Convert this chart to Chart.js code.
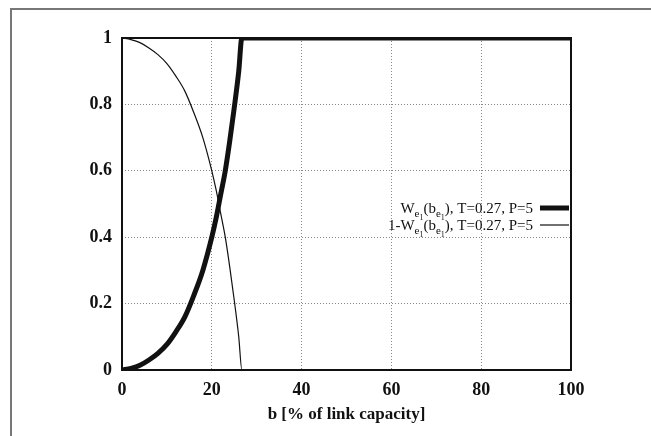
<!DOCTYPE html>
<html>
<head>
<meta charset="utf-8">
<script src="https://cdn.jsdelivr.net/npm/chart.js@4"></script>
<style>
  html, body { margin: 0; padding: 0; background: #fff; }
  #wrap { width: 651px; height: 436px; position: relative; }
</style>
</head>
<body>
<div id="wrap"><canvas id="c" width="651" height="436"></canvas></div>
<script>
// valores
const bValores = [0, 2, 4, 6, 8, 10, 12, 14, 16, 18, 20, 21, 22, 23, 24, 25, 26, 26.7, 100];
const wValores = [0, 0.005, 0.014, 0.03, 0.05, 0.077, 0.115, 0.16, 0.225, 0.3, 0.4, 0.46, 0.53, 0.6, 0.69, 0.79, 0.9, 1, 1];
const compValores = [1, 0.995, 0.986, 0.97, 0.95, 0.923, 0.885, 0.84, 0.775, 0.7, 0.6, 0.54, 0.47, 0.4, 0.31, 0.21, 0.1, 0, 0];
const xTicks = [0, 20, 40, 60, 80, 100];
const yTicks = [0, 0.2, 0.4, 0.6, 0.8, 1];

const SERIF = "'Liberation Serif', 'DejaVu Serif', serif";

function pontos(ys) {
    return bValores.map((b, i) => ({ x: b, y: ys[i] }));
}

// moldura externa, borda do gráfico e legenda desenhadas à mão
const molduraPlugin = {
    id: "moldura",
    beforeDraw(chart) {
        const ctx = chart.ctx;
        ctx.save();
        ctx.strokeStyle = "#777";
        ctx.lineWidth = 2;
        ctx.strokeRect(11, 9, 700, 500);
        ctx.restore();
    },
    afterDraw(chart) {
        const ctx = chart.ctx;
        const a = chart.chartArea;
        ctx.save();
        ctx.strokeStyle = "#111";
        ctx.lineWidth = 2;
        ctx.strokeRect(a.left, a.top, a.right - a.left, a.bottom - a.top);

        // legenda
        const linhas = [
            { pre: "", y: 208, w: 5 },
            { pre: "1-", y: 225, w: 1.2 },
        ];
        const xFim = 533;
        linhas.forEach(l => {
            const partes = [
                [l.pre + "W", 15, 0],
                ["e", 11, 4],
                ["1", 8, 7],
                ["(b", 15, 0],
                ["e", 11, 4],
                ["1", 8, 7],
                ["), T=0.27, P=5", 15, 0],
            ];
            let larg = 0;
            partes.forEach(p => {
                ctx.font = p[1] + "px " + SERIF;
                larg += ctx.measureText(p[0]).width;
            });
            let x = xFim - larg;
            ctx.fillStyle = "#111";
            ctx.textBaseline = "alphabetic";
            partes.forEach(p => {
                ctx.font = p[1] + "px " + SERIF;
                ctx.fillText(p[0], x, l.y + 5 + p[2]);
                x += ctx.measureText(p[0]).width;
            });
            ctx.beginPath();
            ctx.lineWidth = l.w;
            ctx.moveTo(540, l.y);
            ctx.lineTo(569, l.y);
            ctx.stroke();
        });
        ctx.restore();
    },
};

new Chart(document.getElementById("c"), {
    type: "line",
    data: {
        datasets: [
            {
                data: pontos(wValores),
                borderColor: "#111",
                borderWidth: 5,
                pointRadius: 0,
                cubicInterpolationMode: "monotone",
            },
            {
                data: pontos(compValores),
                borderColor: "#111",
                borderWidth: 1.2,
                pointRadius: 0,
                cubicInterpolationMode: "monotone",
            },
        ],
    },
    options: {
        responsive: false,
        animation: false,
        layout: { padding: { top: 38, right: 80, left: 0, bottom: 0 } },
        plugins: { legend: { display: false }, tooltip: { enabled: false } },
        scales: {
            x: {
                type: "linear",
                min: 0,
                max: 100,
                afterBuildTicks: s => { s.ticks = xTicks.map(v => ({ value: v })); },
                afterFit: s => { s.height = 66; },
                grid: { color: "#888", lineWidth: 1, drawTicks: false },
                border: { display: false, dash: [1, 2] },
                ticks: {
                    color: "#111",
                    padding: 10,
                    maxRotation: 0,
                    font: { family: SERIF, size: 18, weight: "bold" },
                },
                title: {
                    display: true,
                    text: "b [% of link capacity]",
                    color: "#111",
                    padding: { top: 0, bottom: 11 },
                    font: { family: SERIF, size: 17, weight: "bold" },
                },
            },
            y: {
                type: "linear",
                min: 0,
                max: 1,
                afterBuildTicks: s => { s.ticks = yTicks.map(v => ({ value: v })); },
                afterFit: s => { s.width = 122; },
                grid: { color: "#888", lineWidth: 1, drawTicks: false },
                border: { display: false, dash: [1, 2] },
                ticks: {
                    color: "#111",
                    padding: 10,
                    font: { family: SERIF, size: 18, weight: "bold" },
                    callback: v => String(v),
                },
            },
        },
    },
    plugins: [molduraPlugin],
});
</script>
</body>
</html>
